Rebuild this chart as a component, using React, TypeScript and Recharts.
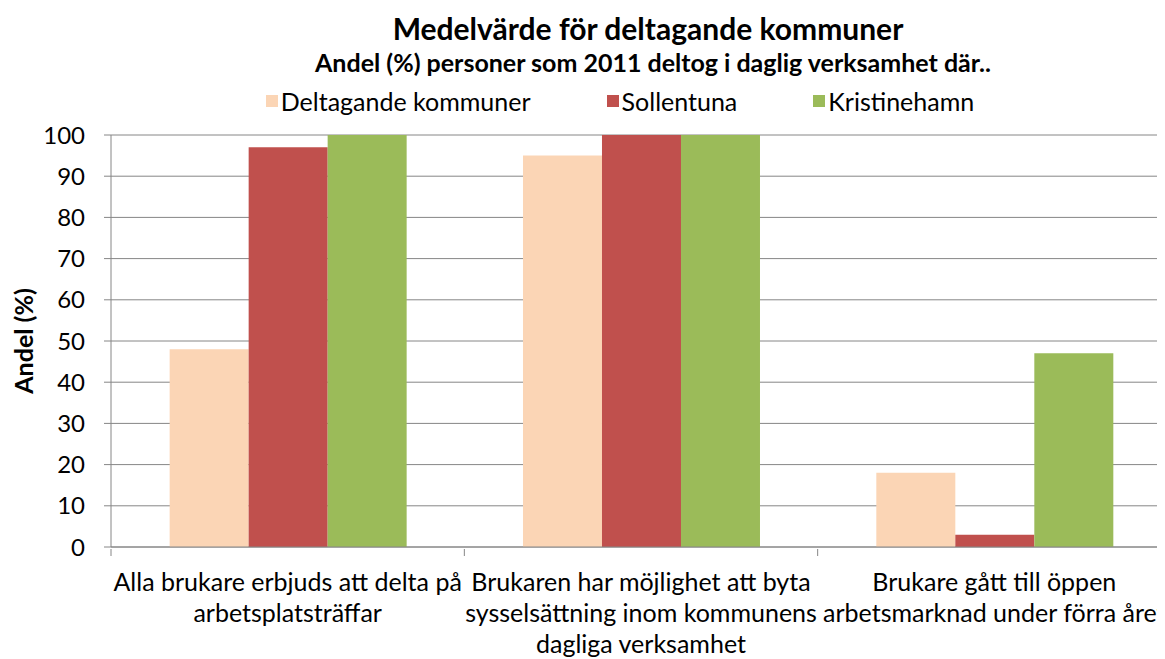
import { BarChart, Bar, XAxis, YAxis, CartesianGrid } from "recharts";

const FONT = "Lato, 'Open Sans', sans-serif";

const categories = [
  "Alla brukare erbjuds att delta på\narbetsplatsträffar",
  "Brukaren har möjlighet att byta\nsysselsättning inom kommunens\ndagliga verksamhet",
  "Brukare gått till öppen\narbetsmarknad under förra året",
];
const deltagande = [48, 95, 18];
const sollentuna = [97, 100, 3];
const kristinehamn = [100, 100, 47];
const yTicks = [0, 10, 20, 30, 40, 50, 60, 70, 80, 90, 100];

const series = [
  { key: "deltagande", name: "Deltagande kommuner", color: "#FBD5B5" },
  { key: "sollentuna", name: "Sollentuna", color: "#C0504D" },
  { key: "kristinehamn", name: "Kristinehamn", color: "#9BBB59" },
];

const data = categories.map((c, i) => ({
  cat: c,
  deltagande: deltagande[i],
  sollentuna: sollentuna[i],
  kristinehamn: kristinehamn[i],
}));

function CatTick(props: any) {
  const { x, y, payload } = props;
  const lines = String(payload.value).split("\n");
  const left = x - (payload.offset || 0);
  return (
    <g>
      <line x1={left} x2={left} y1={y} y2={y + 7} stroke="#868686" />
      <text x={x} y={y + 42} textAnchor="middle" fontFamily={FONT} fontSize={25} fill="#000">
        {lines.map((l, i) => (
          <tspan key={i} x={x} dy={i === 0 ? 0 : 31}>{l}</tspan>
        ))}
      </text>
    </g>
  );
}

function YTitle(props: any) {
  const cy = props.viewBox ? props.viewBox.y + props.viewBox.height / 2 : 341;
  return (
    <text
      x={33}
      y={cy}
      transform={`rotate(-90, 33, ${cy})`}
      textAnchor="middle"
      fontFamily={FONT}
      fontWeight={700}
      fontSize={25}
      fill="#000"
    >
      Andel (%)
    </text>
  );
}

export default function App() {
  return (
    <div style={{ position: "relative", width: 1180, height: 659, margin: "-8px 0 0 -8px", background: "#fff", overflow: "hidden" }}>
      <div style={{ position: "absolute", left: 0, width: 1296, top: 11, lineHeight: "34px", textAlign: "center", fontFamily: FONT, fontWeight: 700, fontSize: 30 }}>
        Medelvärde för deltagande kommuner
      </div>
      <div style={{ position: "absolute", left: 0, width: 1306, top: 47, lineHeight: "30px", textAlign: "center", fontFamily: FONT, fontWeight: 700, fontSize: 25 }}>
        Andel (%) personer som 2011 deltog i daglig verksamhet där..
      </div>
      <div style={{ position: "absolute", left: 0, width: 1240, top: 86, lineHeight: "30px", display: "flex", justifyContent: "center", gap: 76, fontFamily: FONT, fontSize: 25 }}>
        {series.map((s) => (
          <div key={s.key} style={{ display: "flex", alignItems: "center" }}>
            <span style={{ width: 12, height: 12, background: s.color, marginRight: 3, display: "inline-block" }} />
            <span>{s.name}</span>
          </div>
        ))}
      </div>
      <BarChart
        width={1180}
        height={659}
        data={data}
        margin={{ top: 135, right: 9, bottom: 82, left: 31 }}
        barCategoryGap="16.6%"
        barGap={0}
      >
        <CartesianGrid vertical={false} stroke="#868686" />
        <XAxis
          dataKey="cat"
          interval={0}
          tickLine={false}
          tickSize={0}
          stroke="#868686"
          tick={<CatTick />}
        />
        <YAxis
          domain={[0, 100]}
          ticks={yTicks}
          width={80}
          tickSize={7}
          tickMargin={19}
          stroke="#868686"
          tick={{ fill: "#000", fontSize: 24, fontFamily: FONT }}
          label={<YTitle />}
        />
        {series.map((s) => (
          <Bar key={s.key} dataKey={s.key} name={s.name} fill={s.color} isAnimationActive={false} />
        ))}
      </BarChart>
    </div>
  );
}
